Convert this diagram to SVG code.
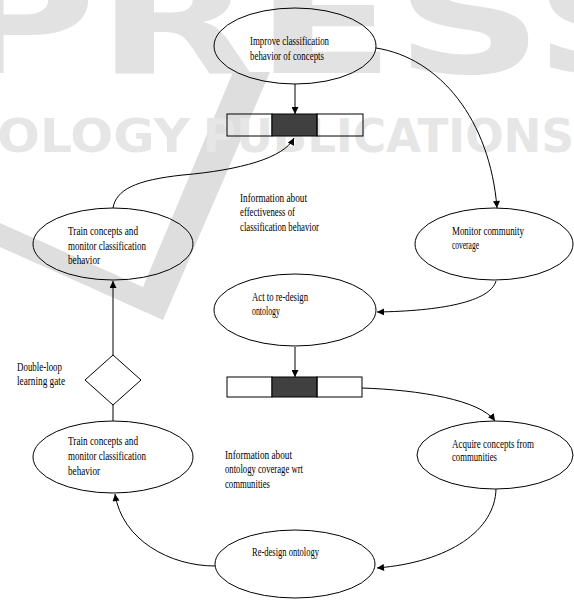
<svg xmlns="http://www.w3.org/2000/svg" width="574" height="600" viewBox="0 0 574 600">
<style>
.wm{font-family:"DejaVu Sans",sans-serif;font-weight:bold}
.n{fill:none;stroke:#000;stroke-width:1}
.t{font-family:"Liberation Serif",serif;font-size:12px;fill:#000}
.c{fill:none;stroke:#000;stroke-width:1}
</style>
<defs>
<marker id="ah" viewBox="0 0 10 10" refX="10" refY="5" markerWidth="8" markerHeight="7" orient="auto" markerUnits="userSpaceOnUse"><path d="M0,0 L10,5 L0,10 z" fill="#000"/></marker>
</defs>
<rect width="574" height="600" fill="#fff"/>
<g id="watermark">
<polygon points="0,223 143,287 233,72 270,72 163,320 0,247" fill="#dedede"/>
<text class="wm" x="-54" y="73" font-size="150" textLength="736" lengthAdjust="spacingAndGlyphs" fill="#e2e2e2">PRESS</text>
<text class="wm" x="-3" y="152" font-size="46" textLength="193" lengthAdjust="spacingAndGlyphs" fill="#e6e6e6">OLOGY</text>
<text class="wm" x="203" y="152" font-size="46" textLength="371" lengthAdjust="spacingAndGlyphs" fill="#e6e6e6">PUBLICATIONS</text>
</g>
<g id="connectors">
<path class="c" d="M295,84 L295,114" marker-end="url(#ah)"/>
<path class="c" d="M113,208 C116,190 135,180 183,175 C240,170 284,158 294,138" marker-end="url(#ah)"/>
<path class="c" d="M376,48 C440,58 490,120 497,208" marker-end="url(#ah)"/>
<path class="c" d="M496,281 C490,302 440,311 377,312" marker-end="url(#ah)"/>
<path class="c" d="M295,347 L295,377" marker-end="url(#ah)"/>
<path class="c" d="M362,388 C420,390 480,400 495,421" marker-end="url(#ah)"/>
<path class="c" d="M496,489 C495,530 450,562 377,568" marker-end="url(#ah)"/>
<path class="c" d="M215,566 C170,566 122,540 115,494" marker-end="url(#ah)"/>
<path class="c" d="M113,421 L113,405"/>
<path class="c" d="M113,355 L113,281" marker-end="url(#ah)"/>
</g>
<g id="improve">
<ellipse class="n" cx="295" cy="46" rx="81" ry="38"/>
<text class="t" x="250" y="45" textLength="79" lengthAdjust="spacingAndGlyphs">Improve classification</text>
<text class="t" x="250" y="60" textLength="74" lengthAdjust="spacingAndGlyphs">behavior of concepts</text>
</g>
<g id="bar1">
<rect class="n" x="227" y="114" width="45" height="22"/>
<rect x="272" y="114" width="45" height="22" fill="#404040" stroke="#000"/>
<rect class="n" x="317" y="114" width="46" height="22"/>
</g>
<g id="train-top">
<ellipse class="n" cx="113" cy="244" rx="80" ry="36"/>
<text class="t" x="68" y="235" textLength="70" lengthAdjust="spacingAndGlyphs">Train concepts and</text>
<text class="t" x="68" y="250" textLength="78" lengthAdjust="spacingAndGlyphs">monitor classification</text>
<text class="t" x="68" y="264" textLength="32" lengthAdjust="spacingAndGlyphs">behavior</text>
</g>
<g id="info1">
<text class="t" x="240" y="202" textLength="67" lengthAdjust="spacingAndGlyphs">Information about</text>
<text class="t" x="240" y="216" textLength="55" lengthAdjust="spacingAndGlyphs">effectiveness of</text>
<text class="t" x="240" y="231" textLength="79" lengthAdjust="spacingAndGlyphs">classification behavior</text>
</g>
<g id="monitor">
<ellipse class="n" cx="494" cy="244" rx="79" ry="36"/>
<text class="t" x="452" y="235" textLength="72" lengthAdjust="spacingAndGlyphs">Monitor community</text>
<text class="t" x="452" y="249" textLength="27" lengthAdjust="spacingAndGlyphs">coverage</text>
</g>
<g id="act">
<ellipse class="n" cx="295" cy="310" rx="81" ry="36"/>
<text class="t" x="252" y="301" textLength="56" lengthAdjust="spacingAndGlyphs">Act to re-design</text>
<text class="t" x="252" y="315" textLength="28" lengthAdjust="spacingAndGlyphs">ontology</text>
</g>
<g id="gate">
<polygon class="n" points="113,355 141,380 113,405 85,380"/>
<text class="t" x="17" y="371" textLength="45" lengthAdjust="spacingAndGlyphs">Double-loop</text>
<text class="t" x="17" y="385" textLength="48" lengthAdjust="spacingAndGlyphs">learning gate</text>
</g>
<g id="bar2">
<rect class="n" x="227" y="377" width="45" height="20"/>
<rect x="272" y="377" width="45" height="20" fill="#404040" stroke="#000"/>
<rect class="n" x="317" y="377" width="45" height="20"/>
</g>
<g id="acquire">
<ellipse class="n" cx="495" cy="455" rx="78" ry="34"/>
<text class="t" x="452" y="448" textLength="82" lengthAdjust="spacingAndGlyphs">Acquire concepts from</text>
<text class="t" x="452" y="461" textLength="45" lengthAdjust="spacingAndGlyphs">communities</text>
</g>
<g id="info2">
<text class="t" x="225" y="459" textLength="67" lengthAdjust="spacingAndGlyphs">Information about</text>
<text class="t" x="225" y="473" textLength="78" lengthAdjust="spacingAndGlyphs">ontology coverage wrt</text>
<text class="t" x="225" y="488" textLength="45" lengthAdjust="spacingAndGlyphs">communities</text>
</g>
<g id="train-bottom">
<ellipse class="n" cx="113" cy="457" rx="80" ry="36"/>
<text class="t" x="68" y="445" textLength="70" lengthAdjust="spacingAndGlyphs">Train concepts and</text>
<text class="t" x="68" y="460" textLength="78" lengthAdjust="spacingAndGlyphs">monitor classification</text>
<text class="t" x="68" y="475" textLength="32" lengthAdjust="spacingAndGlyphs">behavior</text>
</g>
<g id="redesign">
<ellipse class="n" cx="295" cy="564" rx="80" ry="34"/>
<text class="t" x="252" y="556" textLength="67" lengthAdjust="spacingAndGlyphs">Re-design ontology</text>
</g>
</svg>
